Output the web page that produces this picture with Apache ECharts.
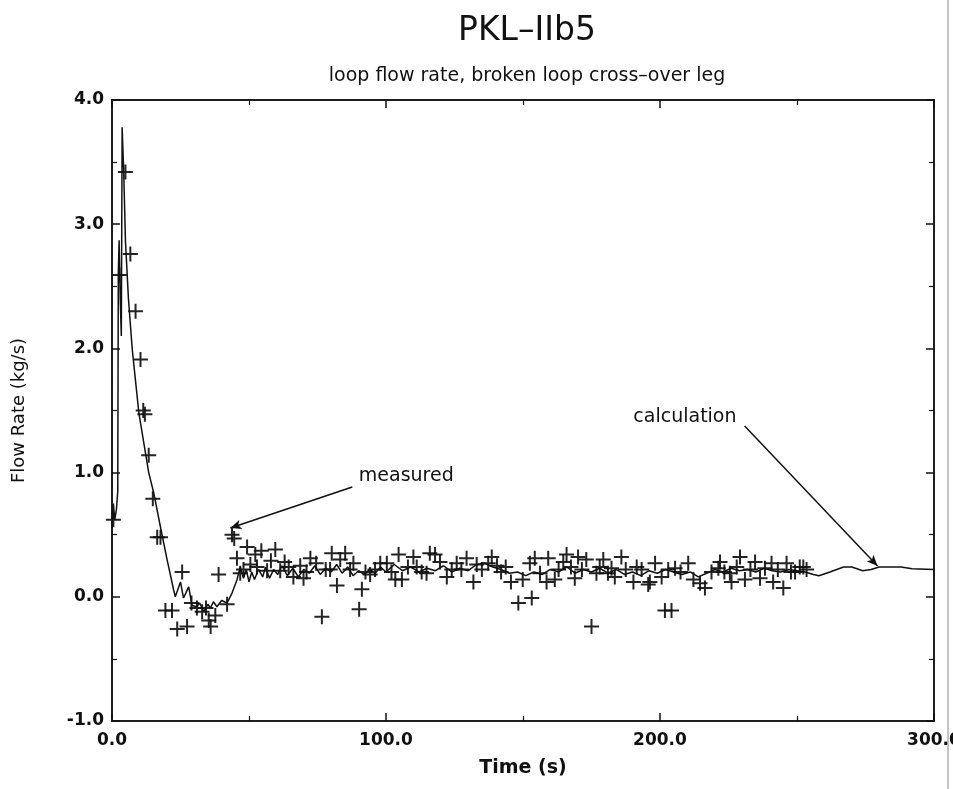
<!DOCTYPE html>
<html>
<head>
<meta charset="utf-8">
<title>PKL-IIb5 loop flow rate</title>
<script src="https://cdn.jsdelivr.net/npm/echarts@6/dist/echarts.min.js"></script>
<style>
  html, body { margin: 0; padding: 0; background: #ffffff; }
  #chart { width: 953px; height: 789px; }
</style>
</head>
<body>
<div id="chart"></div>
<script>
// Calculated loop flow rate (solid line): time [s] and flow [kg/s]
const calcTime = [
  0, 0.5, 1.0, 1.6, 2.1, 2.3, 2.6, 3.0, 3.4, 3.7, 4.3, 4.9, 6.0, 7.4, 9.8, 13.4, 15.2, 17.7, 20.1, 22.5, 23.1,
  25.0, 26.1, 28.0, 29.2, 31.0, 32.0, 33.5, 35.0, 35.9, 37.0, 38.3, 40.0, 42.0, 43.8, 45.6, 46.8,
  48, 49, 50, 51, 52, 53.5, 55, 56, 57.5, 59, 60.5, 62, 64, 66, 68, 70, 72, 74, 76, 78, 80, 82, 84, 86, 88,
  90, 92, 94, 96, 98, 100, 103, 106, 109, 112, 115, 118, 121, 124, 127, 130, 133, 136, 139, 142, 145, 148,
  151, 154, 157, 160, 163, 166, 169, 172, 175, 178, 181, 184, 187, 190, 193, 196, 199, 202, 205, 208, 211,
  214, 217, 220, 223, 226, 229, 232, 235, 238, 241, 244, 247, 250, 253, 256, 258, 262, 267, 270, 274, 277,
  280, 288, 292, 300
];
const calcFlow = [
  0.55, 0.75, 0.62, 0.70, 0.85, 2.60, 2.87, 2.40, 2.10, 3.78, 3.40, 2.87, 2.40, 1.99, 1.48, 1.00, 0.84, 0.56, 0.30, 0.055, 0.0,
  0.12, -0.01, 0.08, -0.07, -0.08, -0.05, -0.12, -0.06, -0.09, -0.04, -0.08, -0.03, -0.05, 0.03, 0.135, 0.24,
  0.15, 0.22, 0.12, 0.20, 0.14, 0.22, 0.16, 0.24, 0.15, 0.22, 0.18, 0.25, 0.17, 0.23, 0.16, 0.22, 0.19, 0.25, 0.18, 0.23, 0.20, 0.26, 0.19, 0.24, 0.17,
  0.21, 0.18, 0.22, 0.19, 0.24, 0.20, 0.26, 0.21, 0.24, 0.20, 0.23, 0.21, 0.25, 0.20, 0.23, 0.21, 0.26, 0.27, 0.24, 0.22, 0.19, 0.20,
  0.17, 0.20, 0.18, 0.22, 0.20, 0.24, 0.19, 0.22, 0.20, 0.23, 0.19, 0.22, 0.18, 0.20, 0.17, 0.21, 0.19, 0.22, 0.20, 0.18, 0.20,
  0.16, 0.19, 0.22, 0.20, 0.23, 0.21, 0.22, 0.20, 0.23, 0.21, 0.20, 0.22, 0.21, 0.20, 0.18, 0.17, 0.20, 0.24, 0.24, 0.21, 0.22,
  0.24, 0.24, 0.225, 0.22
];

// Measured loop flow rate (crosses): time [s] and flow [kg/s]
const measuredTime = [
  0.5, 2.7, 4.9, 6.7, 8.6, 10.4, 11.4, 12.0, 13.4, 14.9, 16.5, 17.7, 19.5, 21.9, 23.8, 25.6, 27.4, 29.0, 31.0,
  32.9, 34.3, 35.3, 36.0, 37.7, 38.9, 42.0, 43.8, 44.6, 45.6, 46.8, 48.0, 49.3, 50.5, 52.3, 52.9, 54.5, 56.6,
  58.0, 59.6, 61.4, 63.0, 64.5, 66.2, 68.7, 69.9, 71.0, 72.4, 74.5, 76.6, 78.0, 79.6, 80.2, 82.1, 83.3, 85.1,
  86.9, 88.1, 90.2, 91.2, 92.5, 94.2, 96.0, 97.9, 100.3, 102.0, 103.4, 104.6, 105.8, 108.0, 110.0, 111.2, 113.0,
  114.8, 116.0, 117.9, 119.7, 122.2, 124.0, 125.8, 127.5, 129.4, 131.9, 133.1, 135.0, 137.3, 138.6, 140.5, 142.0,
  143.7, 145.6, 148.3, 149.9, 152.5, 153.2, 154.3, 156.2, 158.6, 159.2, 161.6, 163.0, 164.7, 165.9, 167.5, 168.9,
  170.1, 171.5, 173.1, 175.0, 176.8, 178.0, 179.3, 181.0, 182.3, 183.5, 185.9, 187.5, 190.3, 191.5, 193.3, 195.7,
  196.3, 198.2, 200.6, 201.8, 203.0, 204.2, 205.5, 207.5, 210.3, 212.2, 214.6, 216.4, 218.8, 221.3, 221.9, 223.5,
  225.5, 226.1, 228.0, 229.2, 231.0, 233.0, 234.7, 236.5, 238.3, 240.7, 241.3, 243.0, 245.0, 246.2, 247.8, 249.3,
  251.0, 252.3, 253.5
];
const measuredFlow = [
  0.62, 2.59, 3.42, 2.76, 2.30, 1.91, 1.50, 1.47, 1.14, 0.79, 0.48, 0.48, -0.11, -0.11, -0.26, 0.20, -0.24, -0.05, -0.09,
  -0.12, -0.09, -0.19, -0.24, -0.15, 0.18, -0.06, 0.50, 0.47, 0.31, 0.19, 0.22, 0.40, 0.26, 0.34, 0.24, 0.37, 0.21,
  0.29, 0.38, 0.21, 0.28, 0.24, 0.16, 0.25, 0.15, 0.20, 0.31, 0.27, -0.16, 0.22, 0.22, 0.35, 0.09, 0.30, 0.35,
  0.22, 0.27, -0.10, 0.06, 0.20, 0.18, 0.22, 0.27, 0.27, 0.20, 0.14, 0.34, 0.14, 0.24, 0.32, 0.24, 0.20,
  0.19, 0.35, 0.34, 0.28, 0.16, 0.22, 0.27, 0.22, 0.31, 0.12, 0.26, 0.22, 0.27, 0.32, 0.25, 0.20,
  0.24, 0.12, -0.05, 0.14, 0.27, -0.01, 0.31, 0.19, 0.12, 0.31, 0.14, 0.22, 0.28, 0.34, 0.24, 0.15,
  0.32, 0.22, 0.30, -0.24, 0.19, 0.24, 0.30, 0.19, 0.23, 0.16, 0.32, 0.22, 0.12, 0.24, 0.22, 0.10,
  0.12, 0.27, 0.16, -0.11, 0.22, -0.11, 0.23, 0.20, 0.27, 0.14, 0.11, 0.07, 0.20, 0.23, 0.28, 0.20,
  0.19, 0.12, 0.24, 0.32, 0.14, 0.22, 0.28, 0.15, 0.23, 0.27, 0.12, 0.22, 0.07, 0.27, 0.20, 0.20,
  0.24, 0.24, 0.22
];

// Axis ranges
const timeRange = [0, 300];
const flowRange = [-1, 4];

// Annotation arrows (data coordinates: [time, flow]) and their captions
const measuredArrow = [[87.7, 0.884], [43.2, 0.554]];
const calcArrow = [[230.9, 1.376], [279.4, 0.248]];
const measuredCaption = { text: 'measured', at: [107.4, 0.97] };
const calcCaption = { text: 'calculation', at: [209.1, 1.45] };

const FONT = '"DejaVu Sans", "Liberation Sans", Arial, sans-serif';
const INK = '#111111';

// "+" marker built from two filled bars
const plusPath = 'path://M0,6.5 H15 V8.5 H0 Z M6.5,0 H8.5 V15 H6.5 Z';

const chart = echarts.init(document.getElementById('chart'), null, { renderer: 'canvas' });

const tickStyle = { show: true, inside: true, length: 8, lineStyle: { color: INK, width: 1.5 } };
const minorStyle = { show: true, splitNumber: 2, length: 5, lineStyle: { color: INK, width: 1.2 } };
const frameLine = { show: true, onZero: false, lineStyle: { color: INK, width: 1.5 } };

const option = {
  backgroundColor: '#ffffff',
  animation: false,
  title: [
    {
      text: 'PKL\u2013IIb5',
      left: 522, top: 10, textAlign: 'center',
      textStyle: { fontFamily: FONT, fontSize: 33, fontWeight: 'normal', color: INK }
    },
    {
      text: 'loop flow rate, broken loop cross\u2013over leg',
      left: 522, top: 62, textAlign: 'center',
      textStyle: { fontFamily: FONT, fontSize: 19, fontWeight: 'normal', color: INK }
    }
  ],
  grid: {
    left: 112, right: 19, top: 100, bottom: 68,
    containLabel: false, outerBoundsMode: 'none',
    show: true, borderColor: INK, borderWidth: 1.5, backgroundColor: 'transparent'
  },
  xAxis: [
    {
      type: 'value', min: timeRange[0], max: timeRange[1], interval: 100,
      name: 'Time (s)', nameLocation: 'middle', nameGap: 38,
      nameTextStyle: { fontFamily: FONT, fontSize: 19, fontWeight: 'bold', color: INK },
      axisLine: frameLine,
      axisTick: tickStyle, minorTick: minorStyle,
      splitLine: { show: false },
      axisLabel: {
        margin: 11, fontFamily: FONT, fontSize: 17, fontWeight: 'bold', color: INK,
        formatter: v => v.toFixed(1)
      }
    },
    {
      type: 'value', position: 'top', min: timeRange[0], max: timeRange[1], interval: 100,
      axisLine: frameLine,
      axisTick: tickStyle, minorTick: minorStyle,
      splitLine: { show: false }, axisLabel: { show: false }
    }
  ],
  yAxis: [
    {
      type: 'value', min: flowRange[0], max: flowRange[1], interval: 1,
      name: 'Flow Rate (kg/s)', nameLocation: 'middle', nameGap: 84, nameRotate: 90,
      nameTextStyle: { fontFamily: FONT, fontSize: 18, fontWeight: 'normal', color: INK },
      axisLine: frameLine,
      axisTick: tickStyle, minorTick: minorStyle,
      splitLine: { show: false },
      axisLabel: {
        margin: 8, fontFamily: FONT, fontSize: 17, fontWeight: 'bold', color: INK,
        formatter: v => v.toFixed(1)
      }
    },
    {
      type: 'value', position: 'right', min: flowRange[0], max: flowRange[1], interval: 1,
      axisLine: frameLine,
      axisTick: tickStyle, minorTick: minorStyle,
      splitLine: { show: false }, axisLabel: { show: false }
    }
  ],
  series: [
    {
      name: 'calculation',
      type: 'line',
      xAxisIndex: 0, yAxisIndex: 0,
      data: calcTime.map((t, i) => [t, calcFlow[i]]),
      showSymbol: false,
      smooth: false,
      lineStyle: { color: INK, width: 1.5 },
      z: 3,
      markLine: {
        silent: true,
        symbol: ['none', 'arrow'],
        symbolSize: [7, 11],
        lineStyle: { color: INK, width: 1.5, type: 'solid' },
        label: { show: false },
        data: [
          [{ coord: measuredArrow[0] }, { coord: measuredArrow[1] }],
          [{ coord: calcArrow[0] }, { coord: calcArrow[1] }]
        ]
      },
      markPoint: {
        silent: true,
        symbol: 'circle', symbolSize: 0,
        itemStyle: { color: 'transparent' },
        label: {
          show: true, position: 'inside', formatter: p => p.name,
          fontFamily: FONT, fontSize: 19, color: INK
        },
        data: [
          { name: measuredCaption.text, coord: measuredCaption.at },
          { name: calcCaption.text, coord: calcCaption.at }
        ]
      }
    },
    {
      name: 'measured',
      type: 'scatter',
      xAxisIndex: 0, yAxisIndex: 0,
      data: measuredTime.map((t, i) => [t, measuredFlow[i]]),
      symbol: plusPath,
      symbolSize: 15,
      itemStyle: { color: INK, opacity: 0.92 },
      z: 4
    }
  ],
  graphic: [
    {
      type: 'line', silent: true,
      shape: { x1: 948, y1: 0, x2: 948, y2: 789 },
      style: { stroke: '#c4c4c4', lineWidth: 2 }
    }
  ]
};

chart.setOption(option);
</script>
</body>
</html>
